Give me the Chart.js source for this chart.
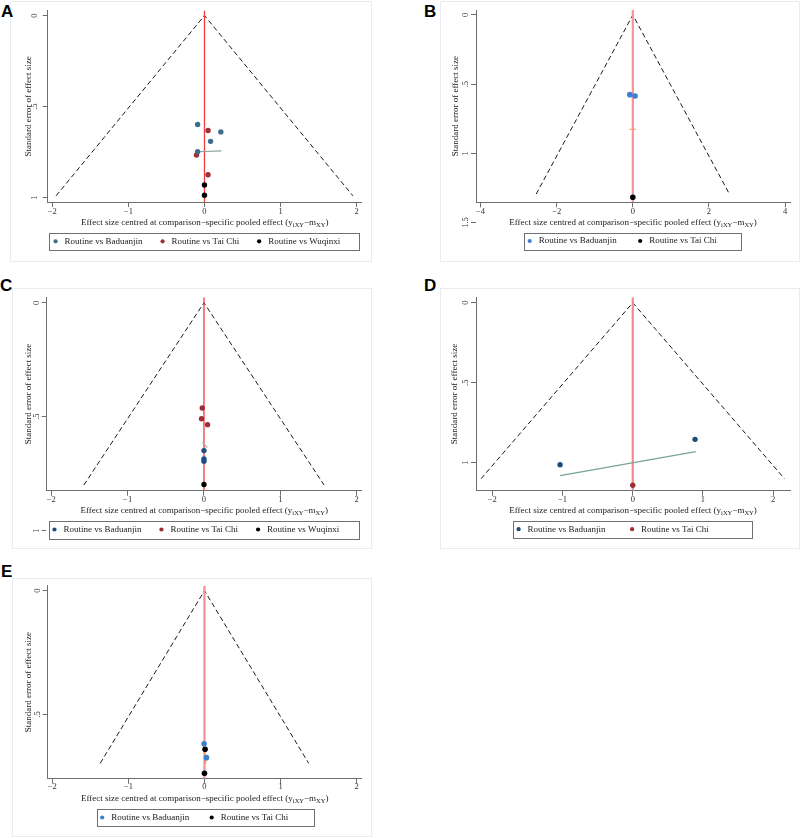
<!DOCTYPE html>
<html>
<head>
<meta charset="utf-8">
<title>Comparison-adjusted funnel plots</title>
<script src="https://cdn.jsdelivr.net/npm/chart.js@4.4.0/dist/chart.umd.min.js"></script>
<style>
  body { margin: 0; width: 800px; height: 838px; position: relative; overflow: hidden; background: #fff; }
  .frame { position: absolute; border: 1px solid #e6ecf1; box-sizing: border-box; }
  canvas { position: absolute; }
  .tag { position: absolute; font: bold 17px "Liberation Sans", Arial, sans-serif; line-height: 1; color: #000; }
</style>
</head>
<body>
<div class="frame" style="left:10px;top:1px;width:362px;height:261px"></div>
<div class="frame" style="left:440px;top:1px;width:360px;height:261px"></div>
<div class="frame" style="left:12px;top:288px;width:360px;height:261px"></div>
<div class="frame" style="left:440px;top:288px;width:360px;height:261px"></div>
<div class="frame" style="left:12px;top:578px;width:360px;height:259px"></div>
<div class="tag" style="left:1px;top:3px">A</div>
<div class="tag" style="left:424px;top:3px">B</div>
<div class="tag" style="left:0px;top:277px">C</div>
<div class="tag" style="left:424px;top:277px">D</div>
<div class="tag" style="left:1px;top:563px">E</div>
<canvas id="chartA"></canvas>
<canvas id="chartB"></canvas>
<canvas id="chartC"></canvas>
<canvas id="chartD"></canvas>
<canvas id="chartE"></canvas>
<script>
// ---------------- data ----------------
const yTitle = "Standard error of effect size";

// Panel A
const badXA = [-0.09, 0.215, 0.08, -0.09];
const badYA = [0.598, 0.639, 0.691, 0.748];
const taiXA = [0.047, -0.105, 0.047];
const taiYA = [0.631, 0.766, 0.874];
const wuqXA = [0, 0];
const wuqYA = [0.931, 0.987];
const fitXA = [-0.09, 0.223];
const fitYA = [0.748, 0.743];
const funnelXA = [-1.95, 0, 1.95];
const funnelYA = [0.99, 0, 0.99];
const xRangeA = [-2.06, 2.066];
const yRangeA = [-0.027, 1.024];
const xTicksA = [-2, -1, 0, 1, 2];
const xTickLabelsA = ["\u22122", "\u22121", "0", "1", "2"];
const yTicksA = [0, 0.5, 1];
const yTickLabelsA = ["0", ".5", "1"];

// Panel B
const badXB = [-0.079, 0.06];
const badYB = [0.576, 0.586];
const taiXB = [0];
const taiYB = [1.318];
const fitXB = [-0.09, 0.09];
const fitYB = [0.826, 0.826];
const funnelXB = [-2.54, 0, 2.54];
const funnelYB = [1.295, 0, 1.295];
const xRangeB = [-4.12, 4.13];
const yRangeB = [-0.036, 1.354];
const xTicksB = [-4, -2, 0, 2, 4];
const xTickLabelsB = ["\u22124", "\u22122", "0", "2", "4"];
const yTicksB = [0, 0.5, 1, 1.5];
const yTickLabelsB = ["0", ".5", "1", "1.5"];

// Panel C
const badXC = [0, 0, 0];
const badYC = [0.649, 0.686, 0.696];
const taiXC = [-0.022, -0.032, 0.047];
const taiYC = [0.462, 0.509, 0.535];
const wuqXC = [0];
const wuqYC = [0.798];
const fitXC = [-0.018, 0.043];
const fitYC = [0.612, 0.636];
const funnelXC = [-1.573, 0, 1.573];
const funnelYC = [0.8, 0, 0.8];
const xRangeC = [-2.06, 2.066];
const yRangeC = [-0.024, 0.825];
const xTicksC = [-2, -1, 0, 1, 2];
const xTickLabelsC = ["\u22122", "\u22121", "0", "1", "2"];
const yTicksC = [0, 0.5, 1];
const yTickLabelsC = ["0", ".5", "1"];

// Panel D
const badXD = [-1.035, 0.887];
const badYD = [1.0125, 0.854];
const taiXD = [0];
const taiYD = [1.141];
const fitXD = [-1.035, 0.897];
const fitYD = [1.081, 0.931];
const funnelXD = [-2.16, 0, 2.16];
const funnelYD = [1.1, 0, 1.1];
const xRangeD = [-2.232, 2.239];
const yRangeD = [-0.034, 1.175];
const xTicksD = [-2, -1, 0, 1, 2];
const xTickLabelsD = ["\u22122", "\u22121", "0", "1", "2"];
const yTicksD = [0, 0.5, 1];
const yTickLabelsD = ["0", ".5", "1"];

// Panel E
const badXE = [-0.005, 0.026];
const badYE = [0.619, 0.675];
const taiXE = [0.008, 0];
const taiYE = [0.641, 0.738];
const fitXE = [0, 0.017];
const fitYE = [0.624, 0.698];
const funnelXE = [-1.37, 0, 1.37];
const funnelYE = [0.698, 0, 0.698];
const xRangeE = [-2.06, 2.066];
const yRangeE = [-0.02, 0.76];
const xTicksE = [-2, -1, 0, 1, 2];
const xTickLabelsE = ["\u22122", "\u22121", "0", "1", "2"];
const yTicksE = [0, 0.5];
const yTickLabelsE = ["0", ".5"];

// ---------------- drawing ----------------
const SERIF = '"Liberation Serif", "Times New Roman", Times, serif';
const TICK_LEN = 5;
const TICK_SIZE = 8.5;
const TEXT_SIZE = 9;
const SUB_SIZE = 6.5;
const AXIS_GREY = "#6e6e6e";

const xTitleParts = [
  ["Effect size centred at comparison\u2212specific pooled effect (y", false],
  ["iXY", true],
  ["\u2212m", false],
  ["XY", true],
  [")", false],
];

function pts(xs, ys) {
  return xs.map((x, i) => ({ x: x, y: ys[i] }));
}

const measureCtx = document.createElement("canvas").getContext("2d");
function textWidth(str, size) {
  measureCtx.font = size + "px " + SERIF;
  return measureCtx.measureText(str).width;
}

function makePanel(id, p) {
  const canvas = document.getElementById(id);
  const [fx0, fy0, fx1, fy1] = p.frame;
  canvas.width = fx1 - fx0;
  canvas.height = fy1 - fy0;
  canvas.style.left = fx0 + "px";
  canvas.style.top = fy0 + "px";

  const [L, T, R, B] = p.area;
  const gap = p.legendGap;
  const legendH = TEXT_SIZE + gap + 10;
  const hx = p.legendY - (gap + TEXT_SIZE / 2) - B;
  const padBottom = fy1 - (B + hx + legendH);
  const xTickPad = p.xTickY - B - TICK_LEN - (TICK_SIZE * 1.2) / 2;
  const widest = Math.max(...p.yTickLabels.map((s) => textWidth(s, TICK_SIZE)));
  const yTickPad = L - TICK_LEN - widest / 2 - p.yTickX;
  const yTitlePad = p.yTitleX - fx0 - (TEXT_SIZE * 1.2) / 2;

  const datasets = p.series.map((s) => ({
    label: s.label,
    data: pts(s.x, s.y),
    backgroundColor: s.color,
    borderColor: s.color,
    borderWidth: 0,
    pointRadius: p.dot,
    pointStyle: "circle",
    showLine: false,
  }));
  datasets.push({
    label: "",
    data: pts(p.fit.x, p.fit.y),
    showLine: true,
    borderColor: p.fit.color,
    borderWidth: p.fit.width,
    pointRadius: 0,
  });
  datasets.push({
    label: "",
    data: [{ x: 0, y: p.yRange[0] }, { x: 0, y: p.yRange[1] }],
    showLine: true,
    borderColor: p.nullColor,
    borderWidth: p.nullWidth,
    pointRadius: 0,
  });
  datasets.push({
    label: "",
    data: pts(p.funnel.x, p.funnel.y),
    showLine: true,
    borderColor: "#1a1a1a",
    borderWidth: 1,
    borderDash: [5, 3],
    pointRadius: 0,
  });

  const extras = {
    id: "panelExtras",
    afterLayout(chart) {
      // move legend so its items sit where they are in the figure
      const lg = chart.legend;
      const dx = p.legendCenter - fx0 - (lg.left + lg.right) / 2;
      lg.left += dx;
      lg.right += dx;
    },
    afterDraw(chart) {
      const ctx = chart.ctx;
      ctx.save();
      // legend frame
      const [bx0, by0, bx1, by1] = p.legendBox;
      ctx.strokeStyle = "#707070";
      ctx.lineWidth = 1;
      ctx.strokeRect(Math.round(bx0 - fx0) + 0.5, Math.round(by0 - fy0) + 0.5,
        Math.round(bx1 - bx0), Math.round(by1 - by0));
      // x axis title with subscripts
      let total = 0;
      xTitleParts.forEach(([t, sub]) => {
        ctx.font = (sub ? SUB_SIZE : TEXT_SIZE) + "px " + SERIF;
        total += ctx.measureText(t).width;
      });
      let x = (chart.chartArea.left + chart.chartArea.right) / 2 - total / 2;
      const y = p.xTitleY - fy0;
      ctx.fillStyle = "#222";
      ctx.textAlign = "left";
      ctx.textBaseline = "middle";
      xTitleParts.forEach(([t, sub]) => {
        ctx.font = (sub ? SUB_SIZE : TEXT_SIZE) + "px " + SERIF;
        ctx.fillText(t, x, sub ? y + 2.5 : y);
        x += ctx.measureText(t).width;
      });
      ctx.restore();
    },
  };

  return new Chart(canvas, {
    type: "scatter",
    data: { datasets: datasets },
    options: {
      responsive: false,
      animation: false,
      devicePixelRatio: 1,
      events: [],
      layout: {
        autoPadding: false,
        padding: { left: 0, top: T - fy0, right: fx1 - R, bottom: padBottom },
      },
      plugins: {
        tooltip: { enabled: false },
        legend: {
          position: "bottom",
          labels: {
            filter: (item) => item.text !== "",
            usePointStyle: true,
            pointStyle: "circle",
            boxWidth: 9,
            boxHeight: 3,
            padding: gap,
            color: "#222",
            font: { family: SERIF, size: TEXT_SIZE },
          },
        },
      },
      scales: {
        x: {
          type: "linear",
          min: p.xRange[0],
          max: p.xRange[1],
          afterBuildTicks: (scale) => {
            scale.ticks = p.xTicks.map((v) => ({ value: v }));
          },
          afterFit: (scale) => {
            scale.height = hx;
          },
          ticks: {
            callback: (v, i) => p.xTickLabels[i],
            autoSkip: false,
            maxRotation: 0,
            minRotation: 0,
            padding: xTickPad,
            color: "#333",
            font: { family: SERIF, size: TICK_SIZE },
          },
          grid: { drawOnChartArea: false, drawTicks: true, tickLength: TICK_LEN, color: AXIS_GREY },
          border: { display: true, color: AXIS_GREY, width: 1 },
          title: { display: false },
        },
        y: {
          type: "linear",
          reverse: true,
          min: p.yRange[0],
          max: p.yRange[1],
          afterBuildTicks: (scale) => {
            scale.ticks = p.yTicks.map((v) => ({ value: v }));
          },
          afterFit: (scale) => {
            scale.width = L - fx0;
          },
          ticks: {
            callback: (v, i) => p.yTickLabels[i],
            autoSkip: false,
            minRotation: 90,
            maxRotation: 90,
            crossAlign: "center",
            padding: yTickPad,
            color: "#333",
            font: { family: SERIF, size: TICK_SIZE },
          },
          grid: { drawOnChartArea: false, drawTicks: true, tickLength: TICK_LEN, color: AXIS_GREY },
          border: { display: true, color: AXIS_GREY, width: 1 },
          title: {
            display: true,
            text: yTitle,
            color: "#222",
            font: { family: SERIF, size: TEXT_SIZE },
            padding: { top: yTitlePad, bottom: 0 },
          },
        },
      },
    },
    plugins: [extras],
  });
}

// Panel A
makePanel("chartA", {
  series: [
    { label: "Routine vs Baduanjin", x: badXA, y: badYA, color: "#3e6e8e" },
    { label: "Routine vs Tai Chi", x: taiXA, y: taiYA, color: "#9c2f37" },
    { label: "Routine vs Wuqinxi", x: wuqXA, y: wuqYA, color: "#000000" },
  ],
  fit: { x: fitXA, y: fitYA, color: "#8aa39c", width: 1.2 },
  funnel: { x: funnelXA, y: funnelYA },
  nullColor: "#f23b3b", nullWidth: 1.3, dot: 2.7,
  xRange: xRangeA, yRange: yRangeA, xTicks: xTicksA, xTickLabels: xTickLabelsA,
  yTicks: yTicksA, yTickLabels: yTickLabelsA,
  frame: [10, 1, 372, 262], area: [47.7, 10, 361.7, 202],
  yTitleX: 28.3, yTickX: 35, xTickY: 211.7, xTitleY: 222.7,
  legendY: 241.3, legendGap: 15.5, legendCenter: 195.7, legendBox: [49.3, 232.7, 359.3, 249.3],
});

// Panel B
makePanel("chartB", {
  series: [
    { label: "Routine vs Baduanjin", x: badXB, y: badYB, color: "#3c7fd4" },
    { label: "Routine vs Tai Chi", x: taiXB, y: taiYB, color: "#000000" },
  ],
  fit: { x: fitXB, y: fitYB, color: "#f0a060", width: 1 },
  funnel: { x: funnelXB, y: funnelYB },
  nullColor: "#f3949a", nullWidth: 2.2, dot: 2.8,
  xRange: xRangeB, yRange: yRangeB, xTicks: xTicksB, xTickLabels: xTickLabelsB,
  yTicks: yTicksB, yTickLabels: yTickLabelsB,
  frame: [440, 1, 800, 262], area: [476, 10, 790, 202.3],
  yTitleX: 456, yTickX: 465.7, xTickY: 211.7, xTitleY: 222.7,
  legendY: 241, legendGap: 19, legendCenter: 621, legendBox: [524.3, 232.7, 741, 249.3],
});

// Panel C
makePanel("chartC", {
  series: [
    { label: "Routine vs Baduanjin", x: badXC, y: badYC, color: "#1f4e80" },
    { label: "Routine vs Tai Chi", x: taiXC, y: taiYC, color: "#9c2f37" },
    { label: "Routine vs Wuqinxi", x: wuqXC, y: wuqYC, color: "#000000" },
  ],
  fit: { x: fitXC, y: fitYC, color: "#a8b0b0", width: 1.3 },
  funnel: { x: funnelXC, y: funnelYC },
  nullColor: "#f23b3b", nullWidth: 1.3, dot: 2.7,
  xRange: xRangeC, yRange: yRangeC, xTicks: xTicksC, xTickLabels: xTickLabelsC,
  yTicks: yTicksC, yTickLabels: yTickLabelsC,
  frame: [12, 288, 372, 549], area: [46.7, 297.3, 361.7, 490.7],
  yTitleX: 28.3, yTickX: 36.7, xTickY: 499.5, xTitleY: 510.7,
  legendY: 529.5, legendGap: 15.5, legendCenter: 194.6, legendBox: [49.3, 520.7, 359.3, 538.3],
});

// Panel D
makePanel("chartD", {
  series: [
    { label: "Routine vs Baduanjin", x: badXD, y: badYD, color: "#1d4b7a" },
    { label: "Routine vs Tai Chi", x: taiXD, y: taiYD, color: "#9c2f37" },
  ],
  fit: { x: fitXD, y: fitYD, color: "#79a58f", width: 1.2 },
  funnel: { x: funnelXD, y: funnelYD },
  nullColor: "#f08c8c", nullWidth: 2.2, dot: 2.7,
  xRange: xRangeD, yRange: yRangeD, xTicks: xTicksD, xTickLabels: xTickLabelsD,
  yTicks: yTicksD, yTickLabels: yTickLabelsD,
  frame: [440, 288, 800, 549], area: [476, 297.3, 790, 490.7],
  yTitleX: 455, yTickX: 465.7, xTickY: 500, xTitleY: 510.7,
  legendY: 529.2, legendGap: 22, legendCenter: 611.4, legendBox: [513.3, 520.7, 752.3, 537.7],
});

// Panel E
makePanel("chartE", {
  series: [
    { label: "Routine vs Baduanjin", x: badXE, y: badYE, color: "#3c82d4" },
    { label: "Routine vs Tai Chi", x: taiXE, y: taiYE, color: "#000000" },
  ],
  fit: { x: fitXE, y: fitYE, color: "#f0a040", width: 1.3 },
  funnel: { x: funnelXE, y: funnelYE },
  nullColor: "#f29090", nullWidth: 2.2, dot: 2.8,
  xRange: xRangeE, yRange: yRangeE, xTicks: xTicksE, xTickLabels: xTickLabelsE,
  yTicks: yTicksE, yTickLabels: yTickLabelsE,
  frame: [12, 578, 372, 837], area: [47.7, 585.7, 361.7, 778.7],
  yTitleX: 28.3, yTickX: 37.3, xTickY: 786.7, xTitleY: 798.3,
  legendY: 817.5, legendGap: 18, legendCenter: 193, legendBox: [96.7, 809, 313.3, 826],
});
</script>
</body>
</html>
